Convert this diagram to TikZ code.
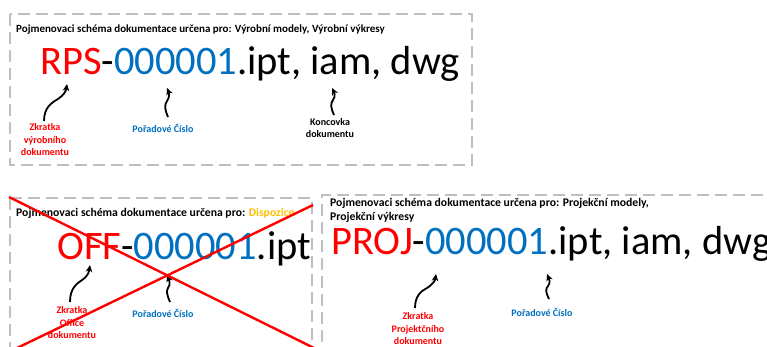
\documentclass[tikz,border=0pt]{standalone}
\usepackage{fontspec}
\setmainfont{Carlito}
\usetikzlibrary{arrows.meta}
\definecolor{cred}{HTML}{FF0000}
\definecolor{cblue}{HTML}{0070C0}
\definecolor{cyel}{HTML}{FFC000}
\definecolor{cgray}{HTML}{BFBFBF}
\begin{document}
\begin{tikzpicture}[x=1pt,y=-1pt,
  dbox/.style={draw=cgray,line width=2.4pt,dash pattern=on 12pt off 6pt},
  ttl/.style={inner sep=0pt,anchor=base west,font=\fontsize{11}{14}\selectfont\bfseries,align=left},
  ttlb/.style={ttl,font=\fontsize{11.7}{14}\selectfont\bfseries},
  big/.style={inner sep=0pt,anchor=base west,font=\fontsize{40.5}{48}\selectfont},
  lbl/.style={inner sep=0pt,font=\fontsize{10}{12.5}\selectfont\bfseries,align=center},
  arr/.style={line width=1.8pt,-{Stealth[length=7pt,width=6.5pt]}},
  cross/.style={draw=cred,line width=2.4pt}]
\useasboundingbox (0,0) rectangle (767,347);
% boxes
\draw[dbox] (10,14) rectangle (472,165);
\draw[dbox] (10,198) -- (312,198) -- (312,360);
\draw[dbox] (10,198) -- (10,360);
\draw[dbox] (322,360) -- (322,195) -- (780,195);
% box 1
\node[ttl] (t1) at (16,33) {Pojmenovaci schéma dokumentace určena pro: Výrobní modely, Výrobní výkresy};
\node[big] (n1) at (40,75) {\textcolor{cred}{RPS}-\textcolor{cblue}{000001}.ipt, iam, dwg};
\node[lbl,text=cred] (l1a) at (45,140) {Zkratka\\výrobního\\dokumentu};
\node[lbl,text=cblue] (l1b) at (163,128) {Pořadové Číslo};
\node[lbl,text=black] (l1c) at (330,128) {Koncovka\\dokumentu};
\coordinate (s1a) at (44,121); \coordinate (e1a) at (67,84);
\coordinate (s1b) at (168,117); \coordinate (e1b) at (167,88);
\coordinate (s1c) at (334,115); \coordinate (e1c) at (332,88);
\draw[arr] (s1a) .. controls (44,108) and (51,103) .. (58,99) .. controls (64,95) and (66,91) .. (e1a);
\draw[arr] (s1b) .. controls (165,110) and (164,105) .. (167,101) .. controls (170,97) and (169,93) .. (e1b);
\draw[arr] (s1c) .. controls (331,108) and (330,104) .. (333,100) .. controls (336,96) and (334,92) .. (e1c);
% box 2
\node[ttlb] (t2) at (16,216) {Pojmenovaci schéma dokumentace určena pro: \textcolor{cyel}{Dispozice}};
\node[big] (n2) at (57,259) {\textcolor{cred}{OFF}-\textcolor{cblue}{000001}.ipt};
\node[lbl,text=cred] (l2a) at (72,323) {Zkratka\\Office\\dokumentu};
\node[lbl,text=cblue] (l2b) at (163,313) {Pořadové Číslo};
\coordinate (s2a) at (70,302); \coordinate (e2a) at (90,265);
\coordinate (s2b) at (170,302); \coordinate (e2b) at (167,275);
\draw[arr] (s2a) .. controls (70,289) and (76,284) .. (82,280) .. controls (88,276) and (89,272) .. (e2a);
\draw[arr] (s2b) .. controls (167,295) and (166,291) .. (168,288) .. controls (171,284) and (169,280) .. (e2b);
\coordinate (x1) at (9,197); \coordinate (x2) at (316,349);
\coordinate (x3) at (313,205); \coordinate (x4) at (15,349);
\draw[cross] (x1) -- (x2);
\draw[cross] (x3) -- (x4);
% box 3
\node[ttlb] (t3) at (330,221) {Pojmenovaci schéma dokumentace určena pro: Projekční modely,\\Projekční výkresy};
\node[big] (n3) at (331,254) {\textcolor{cred}{PROJ}-\textcolor{cblue}{000001}.ipt, iam, dwg};
\node[lbl,text=cred] (l3a) at (418,329) {Zkratka\\Projektčního\\dokumentu};
\node[lbl,text=cblue] (l3b) at (542,312) {Pořadové Číslo};
\coordinate (s3a) at (415,308); \coordinate (e3a) at (436,274);
\coordinate (s3b) at (549,299); \coordinate (e3b) at (547,274);
\draw[arr] (s3a) .. controls (415,296) and (421,291) .. (427,288) .. controls (433,284) and (435,281) .. (e3a);
\draw[arr] (s3b) .. controls (546,293) and (545,289) .. (548,286) .. controls (551,282) and (549,279) .. (e3b);
\end{tikzpicture}
\end{document}
